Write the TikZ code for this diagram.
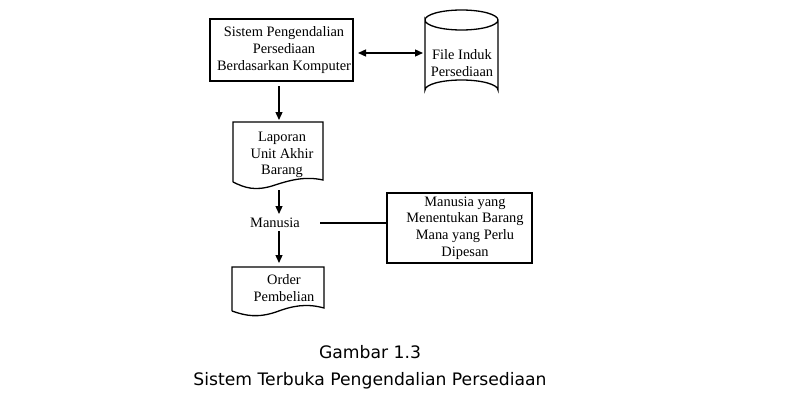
\documentclass[tikz,border=0pt]{standalone}
\usepackage{fontspec}
\setmainfont{Liberation Serif}
\newfontfamily\capfont{DejaVu Sans}
\usetikzlibrary{arrows.meta}
\begin{document}
\begin{tikzpicture}[x=1pt,y=-1pt,
  every node/.style={font=\fontsize{14.4}{16.8}\selectfont, align=center, inner sep=0pt},
  boxstyle/.style={draw, line width=1.3pt},
  lineS/.style={line width=1.3pt},
  arr/.style={lineS, -{Triangle[length=8pt,width=7pt]}},
  darr/.style={lineS, {Triangle[length=8pt,width=7pt]}-{Triangle[length=8pt,width=7pt]}},
  captxt/.style={font=\capfont\fontsize{17.2}{27}\selectfont}]
\useasboundingbox (0,0) rectangle (793,407);
% main box
\draw[lineS] (210,19) rectangle (353,81);
\node (sys) at (284,50) {Sistem Pengendalian\\Persediaan\\Berdasarkan Komputer};
% cylinder
\node (file) at (462,63) {File Induk\\Persediaan};
\draw[lineS] (425,20) arc[start angle=180, end angle=360, x radius=36.5, y radius=10]
  arc[start angle=0, end angle=180, x radius=36.5, y radius=10] -- (425,90)
  arc[start angle=180, end angle=360, x radius=36.5, y radius=10] -- (498,20);
\coordinate (fileL) at (423,53);
\coordinate (sysR) at (358,53);
\draw[darr] (sysR) -- (fileL);
% laporan document
\node (lap) at (282,155) {Laporan\\Unit Akhir\\Barang};
\draw[lineS] (233,182) -- (233,122) -- (323,122) -- (323,180)
  .. controls (305,176) and (290,180) .. (272,186) .. controls (255,191) and (245,188) .. (233,182);
\coordinate (lapT) at (279,120);
\coordinate (lapB) at (279,190);
\draw[arr] (279,86) -- (lapT);
% manusia
\node (man) at (275,223) {Manusia};
\draw[arr] (lapB) -- (279,214);
\draw[arr] (279,231) -- (279,263);
% right box
\draw[lineS] (387,193) rectangle (532,263);
\node (mb) at (465,228) {Manusia yang\\Menentukan Barang\\Mana yang Perlu\\Dipesan};
\coordinate (mbW) at (387,223);
\draw[lineS] (320,223) -- (mbW);
% order doc
\node (ord) at (284,288) {Order\\Pembelian};
\draw[lineS] (232,311) -- (232,267) -- (324,267) -- (324,308)
  .. controls (306,303) and (292,306) .. (276,312) .. controls (258,318) and (246,316) .. (232,311);
% caption
\node[captxt] (cap) at (370,367) {Gambar 1.3\\Sistem Terbuka Pengendalian Persediaan};
\end{tikzpicture}
\end{document}
